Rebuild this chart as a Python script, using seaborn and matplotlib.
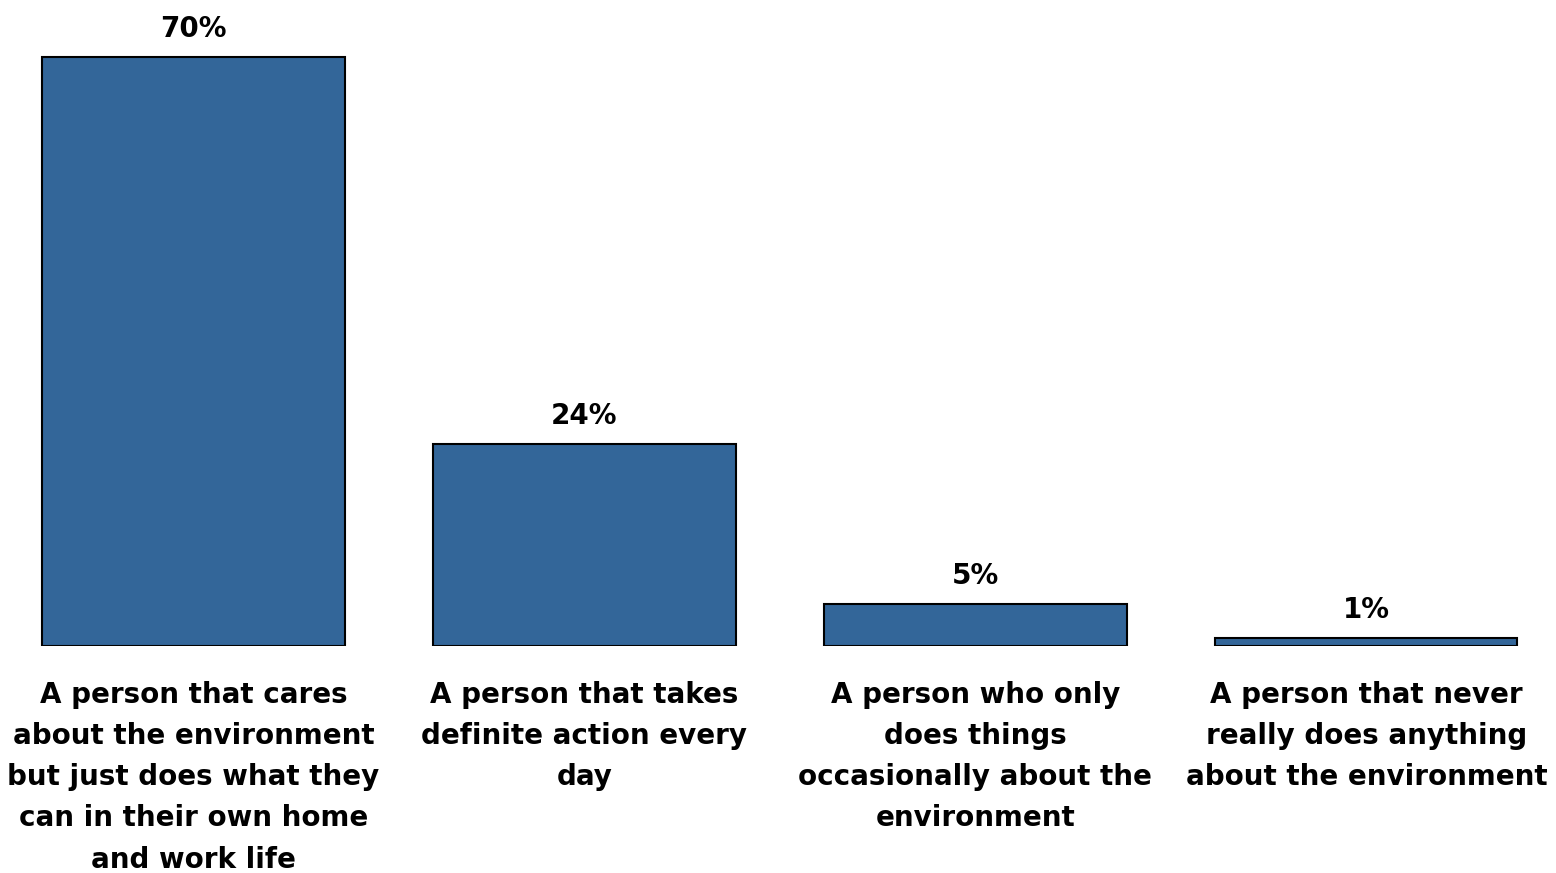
import matplotlib
matplotlib.use("Agg")
import matplotlib.pyplot as plt
import seaborn as sns
import pandas as pd

categories = [
    "A person that cares\nabout the environment\nbut just does what they\ncan in their own home\nand work life",
    "A person that takes\ndefinite action every\nday",
    "A person who only\ndoes things\noccasionally about the\nenvironment",
    "A person that never\nreally does anything\nabout the environment",
]
values = [70, 24, 5, 1]
value_labels = ["70%", "24%", "5%", "1%"]

sns.set_theme(style="white")
plt.rcParams['font.family'] = ['DejaVu Sans']

df = pd.DataFrame({"cat": categories, "val": values})

fig = plt.figure(figsize=(15.56, 8.73), dpi=100)
ax = fig.add_axes([0, (873 - 646) / 873, 1, 646 / 873])
sns.barplot(data=df, x="cat", y="val", color="#336699", saturation=1,
            width=0.773, edgecolor="black", linewidth=1.5, ax=ax)
ax.set_xlim(-0.495, 3.485)
ax.set_ylim(0, 646 / 8.414)

for i, (v, lab) in enumerate(zip(values, value_labels)):
    ax.annotate(lab, (i, v), xytext=(0, 10), textcoords="offset points",
                ha="center", va="bottom", fontsize=20, fontweight="bold",
                color="black")

ax.set_xlabel("")
ax.set_ylabel("")
ax.set_yticks([])
ax.tick_params(axis="x", length=0, pad=25, colors="black")
ax.set_xticks(range(len(categories)))
ax.set_xticklabels(categories, fontsize=20, fontweight="bold", linespacing=1.6,
                   color="black")
for s in ax.spines.values():
    s.set_visible(False)

fig.savefig("out.png", dpi=100)
